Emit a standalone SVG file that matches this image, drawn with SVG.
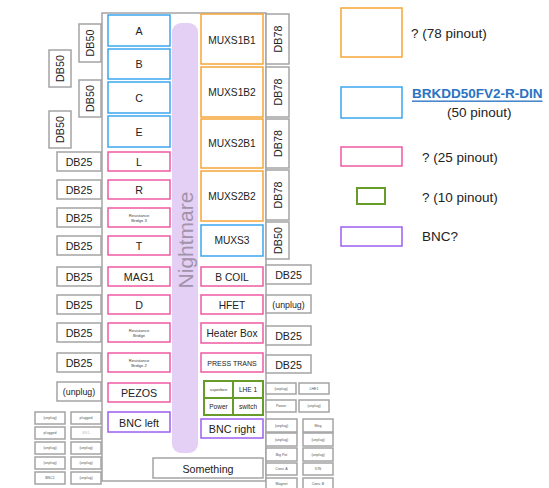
<svg xmlns="http://www.w3.org/2000/svg" width="549" height="488" viewBox="0 0 549 488">
<style>
rect{fill:#fff;stroke-width:1.5}
.g{stroke:#a4a4a4}
.o{stroke:#f6a638}
.b{stroke:#3ba6ef}
.p{stroke:#ee5aa2}
.gr{stroke:#679c2a;stroke-width:2}
.v{stroke:#9d5ff0}
text{font-family:"Liberation Sans",Arial,sans-serif;fill:#222;text-anchor:middle;dominant-baseline:central}
.t11{font-size:10.7px}
.t10{font-size:10.2px}
.t9{font-size:8.8px}
.t7{font-size:7px}
.t6{font-size:6.5px}
.t4{font-size:4.2px;fill:#444}
.t35{font-size:3.6px;fill:#555}
.lg{font-size:13.5px;text-anchor:start}
</style>

<g id="frame"><rect class="g" x="102" y="13" width="164" height="468"/></g>
<g id="nightmare"><rect x="172" y="23" width="26" height="430" rx="9" style="fill:#e4cff5;stroke:none"/>
<text transform="translate(185,240) rotate(-90)" style="font-size:21px;fill:#a193ab">Nightmare</text></g>

<!-- left column -->
<g id="A"><rect class="b" x="108" y="15" width="62" height="31"/><text class="t11" x="139" y="31">A</text></g>
<g id="B"><rect class="b" x="108" y="49" width="62" height="30"/><text class="t11" x="139" y="64">B</text></g>
<g id="C"><rect class="b" x="108" y="82" width="62" height="31"/><text class="t11" x="139" y="98">C</text></g>
<g id="E"><rect class="b" x="108" y="116" width="62" height="31"/><text class="t11" x="139" y="132">E</text></g>
<g id="L"><rect class="p" x="108" y="152" width="62" height="19"/><text class="t11" x="139" y="162">L</text></g>
<g id="R"><rect class="p" x="108" y="180" width="62" height="19"/><text class="t11" x="139" y="190">R</text></g>
<g id="RB3"><rect class="p" x="108" y="208" width="62" height="19"/><text class="t4" x="139" y="215">Resistance</text><text class="t4" x="139" y="220.5">Bridge 3</text></g>
<g id="T"><rect class="p" x="108" y="236" width="62" height="19"/><text class="t11" x="139" y="246">T</text></g>
<g id="MAG1"><rect class="p" x="108" y="267" width="62" height="19"/><text class="t11" x="139" y="277">MAG1</text></g>
<g id="D"><rect class="p" x="108" y="295" width="62" height="19"/><text class="t11" x="139" y="305">D</text></g>
<g id="RB"><rect class="p" x="108" y="323" width="62" height="19"/><text class="t4" x="139" y="330">Resistance</text><text class="t4" x="139" y="335.5">Bridge</text></g>
<g id="RB2"><rect class="p" x="108" y="353" width="62" height="19"/><text class="t4" x="139" y="360">Resistance</text><text class="t4" x="139" y="365.5">Bridge 2</text></g>
<g id="PEZOS"><rect class="p" x="108" y="383" width="62" height="19"/><text class="t11" x="139" y="393">PEZOS</text></g>
<g id="BNCleft"><rect class="v" x="108" y="412" width="62" height="20"/><text class="t11" x="139" y="422.5">BNC left</text></g>

<!-- left connectors -->
<g id="DB50a"><rect class="g" x="79" y="24" width="22" height="38"/><text class="t11" transform="translate(90,43) rotate(-90)">DB50</text></g>
<g id="DB50b"><rect class="g" x="49" y="50" width="22" height="37"/><text class="t11" transform="translate(60,68.5) rotate(-90)">DB50</text></g>
<g id="DB50c"><rect class="g" x="79" y="80" width="22" height="37"/><text class="t11" transform="translate(90,98.5) rotate(-90)">DB50</text></g>
<g id="DB50d"><rect class="g" x="49" y="111" width="22" height="37"/><text class="t11" transform="translate(60,129.5) rotate(-90)">DB50</text></g>
<g id="lDB1"><rect class="g" x="57" y="152" width="44" height="19"/><text class="t11" x="79" y="162">DB25</text></g>
<g id="lDB2"><rect class="g" x="57" y="180" width="44" height="19"/><text class="t11" x="79" y="190">DB25</text></g>
<g id="lDB3"><rect class="g" x="57" y="208" width="44" height="19"/><text class="t11" x="79" y="218">DB25</text></g>
<g id="lDB4"><rect class="g" x="57" y="236" width="44" height="19"/><text class="t11" x="79" y="246">DB25</text></g>
<g id="lDB5"><rect class="g" x="57" y="267" width="44" height="19"/><text class="t11" x="79" y="277">DB25</text></g>
<g id="lDB6"><rect class="g" x="57" y="295" width="44" height="19"/><text class="t11" x="79" y="305">DB25</text></g>
<g id="lDB7"><rect class="g" x="57" y="323" width="44" height="19"/><text class="t11" x="79" y="333">DB25</text></g>
<g id="lDB8"><rect class="g" x="57" y="353" width="44" height="19"/><text class="t11" x="79" y="363">DB25</text></g>
<g id="lUnplug"><rect class="g" x="57" y="382" width="44" height="19"/><text class="t9" x="79" y="392">(unplug)</text></g>

<g id="lsmall">
<rect class="g" x="35" y="412" width="30" height="12"/><text class="t35" x="50" y="418">(unplug)</text>
<rect class="g" x="35" y="427" width="30" height="12"/><text class="t35" x="50" y="433">plugged</text>
<rect class="g" x="35" y="442" width="30" height="12"/><text class="t35" x="50" y="448">(unplug)</text>
<rect class="g" x="35" y="457" width="30" height="12"/><text class="t35" x="50" y="463">(unplug)</text>
<rect class="g" x="35" y="472" width="30" height="12"/><text class="t35" x="50" y="478">BNC1</text>
<rect class="g" x="71" y="412" width="30" height="12"/><text class="t35" x="86" y="418">plugged</text>
<rect class="g" x="71" y="427" width="30" height="12"/><text class="t35" x="86" y="433" style="fill:#bbb">-BS1-</text>
<rect class="g" x="71" y="442" width="30" height="12"/><text class="t35" x="86" y="448">(unplug)</text>
<rect class="g" x="71" y="457" width="30" height="12"/><text class="t35" x="86" y="463">(unplug)</text>
<rect class="g" x="71" y="472" width="30" height="12"/><text class="t35" x="86" y="478">(unplug)</text>
</g>

<!-- right column -->
<g id="MUXS1B1"><rect class="o" x="201" y="14" width="62" height="50"/><text class="t10" x="232" y="40">MUXS1B1</text></g>
<g id="MUXS1B2"><rect class="o" x="201" y="67" width="62" height="50"/><text class="t10" x="232" y="92">MUXS1B2</text></g>
<g id="MUXS2B1"><rect class="o" x="201" y="119" width="62" height="49"/><text class="t10" x="232" y="143">MUXS2B1</text></g>
<g id="MUXS2B2"><rect class="o" x="201" y="171" width="62" height="50"/><text class="t10" x="232" y="196">MUXS2B2</text></g>
<g id="MUXS3"><rect class="b" x="201" y="225" width="62" height="31"/><text class="t10" x="232" y="240.5">MUXS3</text></g>
<g id="BCOIL"><rect class="p" x="201" y="267" width="62" height="19"/><text class="t10" x="232" y="277">B COIL</text></g>
<g id="HFET"><rect class="p" x="201" y="295" width="62" height="19"/><text class="t10" x="232" y="305">HFET</text></g>
<g id="Heater"><rect class="p" x="201" y="323" width="62" height="20"/><text class="t10" x="232" y="333.5">Heater Box</text></g>
<g id="PRESS"><rect class="p" x="201" y="353" width="62" height="19"/><text class="t7" x="232" y="363">PRESS TRANS</text></g>
<g id="green">
<rect class="gr" x="204" y="381" width="29" height="17"/><text class="t4" x="218.5" y="389.5">superbee</text>
<rect class="gr" x="233" y="381" width="30" height="17"/><text class="t6" x="248" y="389.5">LHE 1</text>
<rect class="gr" x="204" y="398" width="29" height="17"/><text class="t6" x="218.5" y="406.5">Power</text>
<rect class="gr" x="233" y="398" width="30" height="17"/><text class="t6" x="248" y="406.5">switch</text>
</g>
<g id="BNCright"><rect class="v" x="201" y="419" width="62" height="19"/><text class="t11" x="232" y="429">BNC right</text></g>
<g id="Something"><rect class="g" x="153" y="458" width="110" height="20"/><text class="t11" x="208" y="468.5">Something</text></g>

<!-- right connectors -->
<g id="DB78a"><rect class="g" x="266" y="14" width="23" height="50"/><text class="t11" transform="translate(277.5,39) rotate(-90)">DB78</text></g>
<g id="DB78b"><rect class="g" x="266" y="67" width="23" height="50"/><text class="t11" transform="translate(277.5,92) rotate(-90)">DB78</text></g>
<g id="DB78c"><rect class="g" x="266" y="119" width="23" height="49"/><text class="t11" transform="translate(277.5,143.5) rotate(-90)">DB78</text></g>
<g id="DB78d"><rect class="g" x="266" y="170" width="23" height="50"/><text class="t11" transform="translate(277.5,195) rotate(-90)">DB78</text></g>
<g id="DB50r"><rect class="g" x="266" y="222" width="23" height="37"/><text class="t11" transform="translate(277.5,240.5) rotate(-90)">DB50</text></g>
<g id="rDB1"><rect class="g" x="266" y="265" width="45" height="19"/><text class="t11" x="288.5" y="275">DB25</text></g>
<g id="rUnplug"><rect class="g" x="266" y="295" width="45" height="18"/><text class="t9" x="288.5" y="304.5">(unplug)</text></g>
<g id="rDB2"><rect class="g" x="266" y="326" width="45" height="19"/><text class="t11" x="288.5" y="336">DB25</text></g>
<g id="rDB3"><rect class="g" x="266" y="355" width="45" height="18"/><text class="t11" x="288.5" y="364.5">DB25</text></g>

<g id="rsmall">
<rect class="g" x="266" y="383" width="30" height="11"/><text class="t35" x="281" y="388.5">(unplug)</text>
<rect class="g" x="299" y="383" width="30" height="11"/><text class="t35" x="314" y="388.5">LHE1</text>
<rect class="g" x="266" y="400" width="30" height="12"/><text class="t35" x="281" y="406">Power</text>
<rect class="g" x="299" y="400" width="30" height="12"/><text class="t35" x="314" y="406">(unplug)</text>
<rect class="g" x="266" y="419" width="31" height="13"/><text class="t35" x="281.5" y="425.5">(unplug)</text>
<rect class="g" x="266" y="433" width="31" height="13"/><text class="t35" x="281.5" y="439.5">(unplug)</text>
<rect class="g" x="266" y="448" width="31" height="13"/><text class="t35" x="281.5" y="454.5">Big Pot</text>
<rect class="g" x="266" y="463" width="31" height="12"/><text class="t35" x="281.5" y="469">Conv. A</text>
<rect class="g" x="266" y="478" width="31" height="13"/><text class="t35" x="281.5" y="484">Magnet</text>
<rect class="g" x="303" y="419" width="30" height="13"/><text class="t35" x="318" y="425.5">Meg</text>
<rect class="g" x="303" y="433" width="30" height="13"/><text class="t35" x="318" y="439.5">(unplug)</text>
<rect class="g" x="303" y="448" width="30" height="13"/><text class="t35" x="318" y="454.5">(unplug)</text>
<rect class="g" x="303" y="463" width="30" height="12"/><text class="t35" x="318" y="469">ION</text>
<rect class="g" x="303" y="478" width="30" height="13"/><text class="t35" x="318" y="484">Conv. B</text>
</g>

<!-- legend -->
<g id="legend">
<rect class="o" x="341" y="8" width="61" height="49"/><text class="lg" x="411" y="33">? (78 pinout)</text>
<rect class="b" x="341" y="87" width="61" height="31"/>
<text class="lg" x="412" y="93" style="font-weight:bold;fill:#2a73c2;text-decoration:underline">BRKDD50FV2-R-DIN</text>
<text class="lg" x="447" y="112">(50 pinout)</text>
<rect class="p" x="341" y="147" width="61" height="19"/><text class="lg" x="422" y="157">? (25 pinout)</text>
<rect class="gr" x="357" y="188" width="28" height="16"/><text class="lg" x="422" y="197">? (10 pinout)</text>
<rect class="v" x="341" y="227" width="61" height="19"/><text class="lg" x="422" y="236">BNC?</text>
</g>
</svg>
